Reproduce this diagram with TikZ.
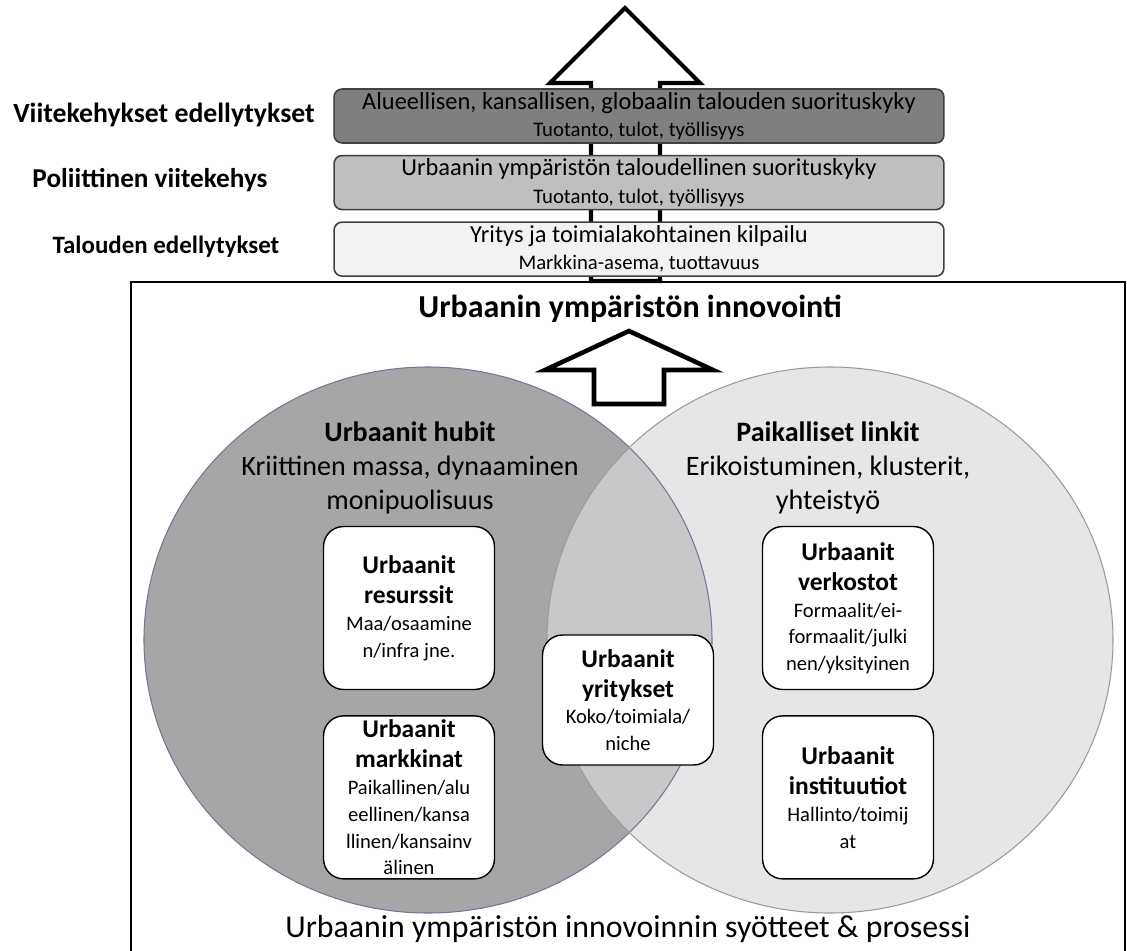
\documentclass[tikz,border=0pt]{standalone}
\usepackage{fontspec}
\setmainfont{Carlito}
\usepackage{xcolor}
\usetikzlibrary{positioning}

\definecolor{bandA}{HTML}{7F7F7F}
\definecolor{bandB}{HTML}{BFBFBF}
\definecolor{bandC}{HTML}{F2F2F2}
\definecolor{hubfill}{HTML}{A6A6A6}
\definecolor{linkfill}{HTML}{E6E6E6}
\definecolor{ovlfill}{HTML}{C8C8C8}
\definecolor{hubline}{HTML}{6B7A96}
\definecolor{linkline}{HTML}{9A9A9A}

\newcommand{\bxhead}{\fontsize{14.5}{17}\selectfont\bfseries}
\newcommand{\bxbody}{\fontsize{11.7}{15.2}\selectfont}
\newcommand{\bandhead}{\fontsize{13.9}{16}\selectfont}

\begin{document}
\begin{tikzpicture}[x=0.02cm,y=-0.02cm,
    band/.style={draw=black!75, line width=0.9pt, rounded corners=0.16cm,
        minimum width=12.2cm, minimum height=1.08cm, align=center, inner ysep=0pt,
        font=\fontsize{11.8}{15.6}\selectfont},
    unit/.style={draw=black, fill=white, line width=0.8pt, rounded corners=0.4cm,
        minimum width=3.42cm, minimum height=3.26cm, align=center, inner sep=2pt,
        font=\bxbody},
    sidelbl/.style={font=\fontsize{14.2}{17}\selectfont\bfseries},
    blockarrow/.style={draw=black, fill=white, line join=miter}]
    \useasboundingbox (0,0) rectangle (1127,951);
    \clip (0,0) rectangle (1127,951);

    % big arrow behind the bands
    \draw[blockarrow, line width=2.3pt]
        (591,281) -- (591,83) -- (550,83) -- (625,8) -- (700,83) -- (660,83) -- (660,281) -- cycle;

    % bands
    \node[band, fill=bandA] (perf) at (639,116)
        {{\bandhead Alueellisen, kansallisen, globaalin talouden suorituskyky}\\Tuotanto, tulot, työllisyys};
    \node[band, fill=bandB, below=0.22cm of perf] (urbperf)
        {{\bandhead Urbaanin ympäristön taloudellinen suorituskyky}\\Tuotanto, tulot, työllisyys};
    \node[band, fill=bandC, below=0.22cm of urbperf] (comp)
        {{\bandhead Yritys ja toimialakohtainen kilpailu}\\Markkina-asema, tuottavuus};

    \node[sidelbl, font=\fontsize{15.8}{18}\selectfont\bfseries] (frame) at (164,115) {Viitekehykset edellytykset};
    \node[sidelbl, font=\fontsize{15.5}{18}\selectfont\bfseries] (policy) at (150,180) {Poliittinen viitekehys};
    \node[sidelbl] (econ) at (166,247) {Talouden edellytykset};

    % frame
    \draw[line width=1.2pt] (131,282) rectangle (1125,990);
    \node[font=\fontsize{18.2}{21}\selectfont\bfseries] (innov) at (630,309) {Urbaanin ympäristön innovointi};

    % small arrow
    \draw[blockarrow, line width=2.6pt]
        (594,404) -- (594,370) -- (545,370) -- (629,331) -- (713,370) -- (664,370) -- (664,404) -- cycle;

    % venn
    \fill[hubfill] (428,640) ellipse [x radius=284, y radius=273];
    \fill[linkfill] (830,640) ellipse [x radius=283, y radius=273];
    \begin{scope}
        \clip (428,640) ellipse [x radius=284, y radius=273];
        \fill[ovlfill] (830,640) ellipse [x radius=283, y radius=273];
    \end{scope}
    \draw[hubline, line width=0.6pt] (428,640) ellipse [x radius=284, y radius=273];
    \draw[linkline, line width=0.6pt] (830,640) ellipse [x radius=283, y radius=273];

    \node[align=center, font=\fontsize{16}{19.5}\selectfont] (hubs) at (410,468)
        {{\bfseries Urbaanit hubit}\\Kriittinen massa, dynaaminen\\monipuolisuus};
    \node[align=center, font=\fontsize{16}{19.5}\selectfont] (links) at (828,468)
        {{\bfseries Paikalliset linkit}\\Erikoistuminen, klusterit,\\yhteistyö};

    \node[unit] (res) at (409,608)
        {{\bxhead Urbaanit}\\[2pt]{\bxhead resurssit}\\Maa/osaamine\\n/infra jne.};
    \node[unit, below=0.5cm of res] (mkt)
        {{\bxhead Urbaanit}\\[2pt]{\bxhead markkinat}\\Paikallinen/alu\\eellinen/kansa\\llinen/kansainv\\älinen};
    \node[unit, minimum height=2.6cm] (firms) at (628,700)
        {{\bxhead Urbaanit}\\[2pt]{\bxhead yritykset}\\Koko/toimiala/\\niche};
    \node[unit] (net) at (848,608)
        {{\bxhead Urbaanit}\\[2pt]{\bxhead verkostot}\\Formaalit/ei-\\formaalit/julki\\nen/yksityinen};
    \node[unit, below=0.5cm of net] (inst)
        {{\bxhead Urbaanit}\\[2pt]{\bxhead instituutiot}\\Hallinto/toimij\\at};

    \node[font=\fontsize{18.1}{21}\selectfont] (inputs) at (628,929)
        {Urbaanin ympäristön innovoinnin syötteet \& prosessi};
\end{tikzpicture}
\end{document}
